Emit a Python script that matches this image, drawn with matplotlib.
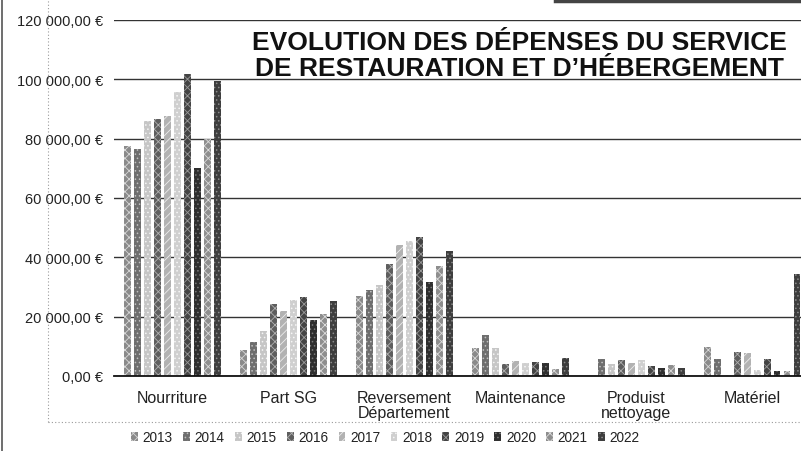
import numpy as np
import matplotlib
matplotlib.use("Agg")
import matplotlib.pyplot as plt
from matplotlib.lines import Line2D

# values (euros)
categories = ["Nourriture", "Part SG", "Reversement\nDépartement", "Maintenance",
              "Produist\nnettoyage", "Matériel"]
years = ["2013", "2014", "2015", "2016", "2017", "2018", "2019", "2020", "2021", "2022"]

nourriture = [77600, 76500, 86000, 86600, 87700, 95800, 101800, 70000, 79900, 99500]
part_sg = [8800, 11300, 15200, 24300, 22000, 25700, 26500, 19000, 20900, 25300]
reversement = [26900, 28900, 30700, 37900, 44200, 45500, 46700, 31800, 37000, 42200]
maintenance = [9300, 13700, 9300, 3900, 5000, 4500, 4800, 4500, 2200, 5900]
produits = [0, 5700, 4000, 5400, 4300, 5400, 3400, 2800, 3600, 2800]
materiel = [9900, 5600, 500, 8100, 7900, 1900, 5600, 1700, 1700, 34300]

yticks = [0, 20000, 40000, 60000, 80000, 100000, 120000]

# bar looks per year (scan gives speckled greys)
faces = ["#8a8a8a", "#6e6e6e", "#c6c6c6", "#5e5e5e", "#b2b2b2",
         "#cfcfcf", "#444444", "#2f2f2f", "#8e8e8e", "#3e3e3e"]
hatches = ["xxxx", "....", "....", "xxxx", "////", "....", "xxxx", "....", "xxxx", "...."]
hatch_cols = ["#d8d8d8", "#c0c0c0", "#f4f4f4", "#b0b0b0", "#ececec",
              "#f6f6f6", "#9a9a9a", "#7a7a7a", "#dcdcdc", "#8c8c8c"]

series = np.array([nourriture, part_sg, reversement, maintenance, produits, materiel]).T

plt.rcParams['font.family'] = ['Liberation Sans', 'DejaVu Sans']
plt.rcParams['hatch.linewidth'] = 0.6

fig = plt.figure(figsize=(8.01, 4.52), dpi=100)
W, H = 801, 452
ax_left, ax_right = 114.4, 810.0
ax_bottom, ax_top = 377, 21
ax = fig.add_axes([ax_left / W, 1 - ax_bottom / H,
                   (ax_right - ax_left) / W, (ax_bottom - ax_top) / H])

x = np.arange(len(categories))
step = 0.0862
width = 0.06
for j, yr in enumerate(years):
    ax.bar(x + (j - 4.5) * step, series[j], width=width, color=faces[j],
           edgecolor=hatch_cols[j], linewidth=0, hatch=hatches[j], label=yr, zorder=2)

ax.set_xlim(-0.5, 5.5)
ax.set_ylim(0, 120000)
ax.set_yticks(yticks)
ax.set_yticklabels([f"{v:,.2f}".replace(",", " ").replace(".", ",") + " €" for v in yticks],
                   fontsize=10.5, color="#222222")
ax.set_xticks(x)
ax.set_xticklabels(categories, fontsize=11.5, color="#222222", linespacing=1.0)
ax.tick_params(axis="both", length=0)
ax.tick_params(axis="y", pad=8)
ax.tick_params(axis="x", pad=10)
ax.yaxis.grid(True, color="#333333", linewidth=1.0, zorder=0)
ax.set_axisbelow(True)
for s in ["top", "right", "left"]:
    ax.spines[s].set_visible(False)
ax.spines["bottom"].set_color("#111111")
ax.spines["bottom"].set_linewidth(1.3)

ax.text(0.5817, 0.902, "EVOLUTION DES DÉPENSES DU SERVICE\nDE RESTAURATION ET D’HÉBERGEMENT",
        transform=ax.transAxes, ha="center", va="center", fontsize=19, fontweight="bold",
        color="#111111", linespacing=1.12, zorder=5)

handles, labels = ax.get_legend_handles_labels()
fig.legend(handles, labels, loc="center", bbox_to_anchor=(0.481, 1 - 438 / H), ncol=10,
           frameon=False, fontsize=9.8, handlelength=0.5, handleheight=0.6,
           handletextpad=0.35, columnspacing=0.75, labelcolor="#222222")

# scan frame remnants
fig.add_artist(Line2D([48 / W, 48 / W], [1 - 423 / H, 1.0], color="#9a9a9a",
                      linewidth=0.8, linestyle=(0, (1, 2))))
fig.add_artist(Line2D([48 / W, 1.0], [1 - 423 / H, 1 - 423 / H], color="#9a9a9a",
                      linewidth=0.8, linestyle=(0, (1, 2))))
fig.add_artist(Line2D([2 / W, 2 / W], [0, 1], color="#555555", linewidth=1.2))
fig.add_artist(Line2D([555 / W, 1.0], [1 - 1.5 / H, 1 - 1.5 / H], color="#444444", linewidth=2.5))

fig.savefig("out.png", dpi=100)
